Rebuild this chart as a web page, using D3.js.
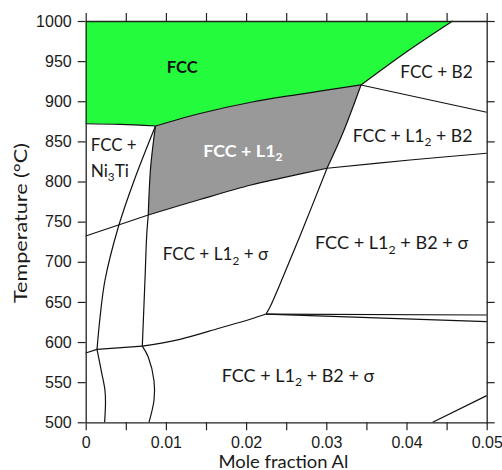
<!DOCTYPE html>
<html><head><meta charset="utf-8">
<script src="https://cdn.jsdelivr.net/npm/d3@7"></script>
<style>body{margin:0;background:#fff} svg{display:block}</style>
</head><body>
<svg id="c" width="502" height="470"></svg>
<script>
// ---- data (mole fraction Al, temperature °C) ----
const xTickValues = [0,0.005,0.01,0.015,0.02,0.025,0.03,0.035,0.04,0.045,0.05];
const xTickLabels = ["0","","0.01","","0.02","","0.03","","0.04","","0.05"];
const yTickValues = [500,550,600,650,700,750,800,850,900,950,1000];

const greenBottom   = [[0,872.0],[0.0043,871.2],[0.0087,869.2]];
const fccL12Top     = [[0.0087,869.2],[0.01425,884.8],[0.02061,898.8],[0.02685,909.0],[0.03433,920.3]];
const fccB2Left     = [[0.03433,920.3],[0.04007,962.0],[0.04576,1000]];
const b2Lower       = [[0.03433,920.3],[0.05,886.3]];
const l12RightUpper = [[0.03433,920.3],[0.03205,860.1],[0.03009,816.5]];
const l12RightLower = [[0.03009,816.5],[0.02672,732.1],[0.02460,681.0],[0.02298,643.7],[0.02248,634.9]];
const sigmaTopLeft  = [[0,732.1],[0.0078,758.3]];
const sigmaTopMid   = [[0.0078,758.3],[0.01425,777.6],[0.02061,795.7],[0.02423,804.0],[0.03009,816.5]];
const b2TopRight    = [[0.03009,816.5],[0.04044,826.8],[0.05,835.2]];
const l12LeftUpper  = [[0.0087,869.2],[0.0081,818.1],[0.0078,758.3]];
const l12LeftLower  = [[0.0078,758.3],[0.00761,733.4],[0.00739,677.3],[0.00706,595.0]];
const ni3tiBound    = [[0.0087,869.2],[0.00606,801.9],[0.00407,743.3],[0.00241,677.3],[0.00178,630.0],[0.00141,590.9]];
const sigmaBotLeft  = [[0,586.4],[0.00141,590.9]];
const sigmaBotMid   = [[0.00141,590.9],[0.00706,595.0]];
const sigmaBotRight = [[0.00706,595.0],[0.01176,603.4],[0.01675,617.5],[0.02061,628.7],[0.02248,634.9]];
const dUpper        = [[0.02248,634.9],[0.05,633.7]];
const dLower        = [[0.02248,634.9],[0.05,625.4]];
const gLower        = [[0.00141,590.9],[0.00200,561.4],[0.00240,540.0],[0.00247,525.0],[0.00236,500]];
const fLower        = [[0.00706,595.0],[0.00780,581.4],[0.00852,551.5],[0.00852,527.8],[0.00789,500]];
const bottomRight   = [[0.04327,500],[0.05,533.2]];
const greenTop      = [[0,1000],[0.04576,1000]];

const boundaries = [greenBottom,fccL12Top,fccB2Left,b2Lower,l12RightUpper,l12RightLower,
  sigmaTopLeft,sigmaTopMid,b2TopRight,l12LeftUpper,l12LeftLower,ni3tiBound,
  sigmaBotLeft,sigmaBotMid,sigmaBotRight,dUpper,dLower,gLower,fLower,bottomRight];

const labelTexts = ["FCC","FCC + B2","FCC + L1_2 + B2","FCC + L1_2","FCC +","Ni_3Ti",
  "FCC + L1_2 + σ","FCC + L1_2 + B2 + σ","FCC + L1_2 + B2 + σ"];
const labelAnchors = [[0.0101,935.6],[0.03923,929.0],[0.03329,849.6],[0.01466,830.9],
  [0.00062,838.4],[0.00062,806.0],[0.0096,701.6],[0.02859,715.6],[0.01696,550.6]];

// ---- layout / style ----
const labelWidths = [31,72.4,120,79.4,46,38.3,105.6,153.3,152.6];
const labelStyle  = [{b:1,c:"#111"},{c:"#1a1a1a"},{c:"#1a1a1a"},{b:1,c:"#fff"},{c:"#1a1a1a"},{c:"#1a1a1a"},{c:"#1a1a1a"},{c:"#1a1a1a"},{c:"#1a1a1a"}];
const FONT = "Lato, 'Open Sans', 'Noto Sans', sans-serif";
const LABEL_FS = 17.5;

const svg = d3.select("#c");
const x = d3.scaleLinear().domain([0,0.05]).range([85.7,486.7]);
const y = d3.scaleLinear().domain([500,1000]).range([422.3,21]);
const line = d3.line().x(d=>x(d[0])).y(d=>y(d[1])).curve(d3.curveCatmullRom.alpha(0.5));
const rev = a => a.slice().reverse();
function joinPath(segs){
  return segs.map((s,i)=>{const d=line(s); return i===0?d:"L"+d.slice(1);}).join("")+"Z";
}

// fills
svg.append("path").attr("d", joinPath([greenTop, rev(fccB2Left), rev(fccL12Top), rev(greenBottom)]))
  .attr("fill","#24fb3c").attr("stroke","none");
svg.append("path").attr("d", joinPath([fccL12Top, l12RightUpper, rev(sigmaTopMid), rev(l12LeftUpper)]))
  .attr("fill","#999999").attr("stroke","none");

// boundaries
svg.append("g").selectAll("path").data(boundaries).join("path")
  .attr("d", line).attr("fill","none").attr("stroke","#111").attr("stroke-width",1.2);

// axes
const axColor = "#222";
function styleAxis(g){
  g.select(".domain").attr("stroke",axColor).attr("stroke-width",1.3);
  g.selectAll(".tick line").attr("stroke",axColor).attr("stroke-width",1.2);
  g.selectAll(".tick text").attr("fill","#1a1a1a").attr("font-family","'Liberation Sans', Arial, sans-serif").attr("font-size",16);
}
svg.append("g").attr("transform",`translate(0,${y(500)})`)
  .call(d3.axisBottom(x).tickValues(xTickValues).tickFormat((d,i)=>xTickLabels[i]).tickSize(8).tickSizeOuter(0).tickPadding(6.5))
  .call(styleAxis);
svg.append("g").attr("transform",`translate(0,${y(1000)})`)
  .call(d3.axisTop(x).tickValues(xTickValues).tickFormat("").tickSize(8).tickSizeOuter(0))
  .call(styleAxis);
svg.append("g").attr("transform",`translate(${x(0)},0)`)
  .call(d3.axisLeft(y).tickValues(yTickValues).tickFormat(d3.format("d")).tickSize(8).tickSizeOuter(0).tickPadding(6))
  .call(styleAxis);
svg.append("g").attr("transform",`translate(${x(0.05)},0)`)
  .call(d3.axisRight(y).tickValues(yTickValues).tickFormat("").tickSize(8).tickSizeOuter(0))
  .call(styleAxis);

// labels with subscripts: fixed height, horizontally scaled to target width
function buildText(g, str, fs){
  const t = g.append("text").attr("font-family",FONT).attr("font-size",fs);
  const parts = str.split(/_(\d)/);
  let shifted = false;
  parts.forEach((p,i)=>{
    if(p==="") return;
    if(i%2===1){
      t.append("tspan").attr("font-size",fs*0.68).attr("dy",fs*0.27).text(p);
      shifted = true;
    } else {
      const ts = t.append("tspan").text(p);
      if(shifted){ ts.attr("dy",-fs*0.27); shifted=false; }
    }
  });
  return t;
}
function fittedText(str, px, py, targetW, style, fs, rot){
  const g = svg.append("g");
  const t = buildText(g, str, fs).attr("fill",style.c);
  if(style.b) t.attr("font-weight","bold");
  const w = t.node().getComputedTextLength();
  const sx = targetW/w;
  g.attr("transform",`translate(${px},${py})${rot?` rotate(${rot})`:""} scale(${sx},1)`);
  return t;
}
labelTexts.forEach((s,i)=>{
  fittedText(s, x(labelAnchors[i][0]), y(labelAnchors[i][1]), labelWidths[i], labelStyle[i], LABEL_FS);
});

// axis titles
fittedText("Mole fraction Al", 218.5, 467.5, 130, {c:"#1a1a1a"}, 17.5);
fittedText("Temperature (°C)", 26.5, 303, 160, {c:"#1a1a1a"}, 18, -90);
</script>
</body></html>
